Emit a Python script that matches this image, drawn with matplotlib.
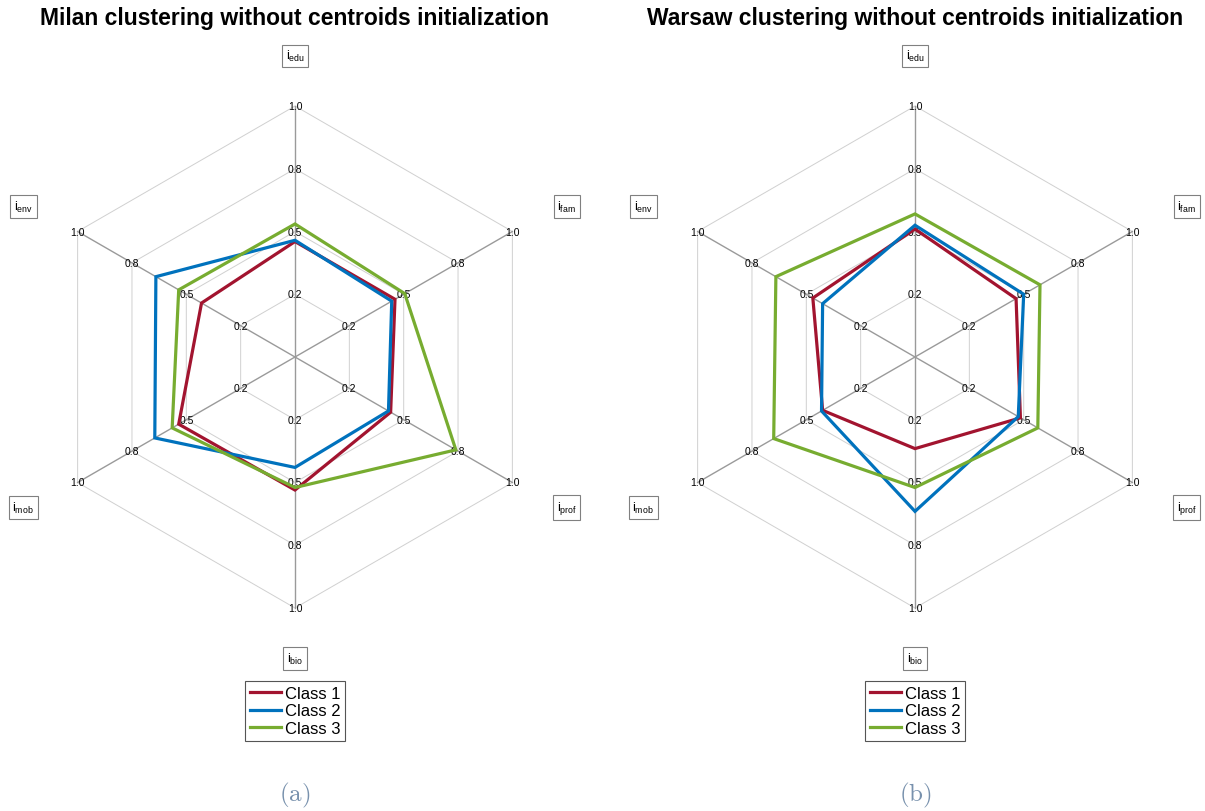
import numpy as np
import matplotlib
matplotlib.use('Agg')
import matplotlib.pyplot as plt
from matplotlib.patches import Polygon

plt.rcParams['font.family'] = ['Liberation Sans', 'DejaVu Sans']
plt.rcParams['mathtext.fontset'] = 'custom'
plt.rcParams['mathtext.rm'] = 'Liberation Sans'

# Indicators, clockwise from the top
indicators = ['edu', 'fam', 'prof', 'bio', 'mob', 'env']
angles_deg = [90, 30, -30, -90, -150, 150]
rings = [0.25, 0.5, 0.75, 1.0]

milan_class1 = [0.46, 0.46, 0.44, 0.53, 0.535, 0.43]
milan_class2 = [0.465, 0.445, 0.43, 0.44, 0.645, 0.64]
milan_class3 = [0.53, 0.505, 0.74, 0.52, 0.565, 0.535]

warsaw_class1 = [0.51, 0.465, 0.485, 0.365, 0.425, 0.47]
warsaw_class2 = [0.525, 0.50, 0.475, 0.615, 0.43, 0.425]
warsaw_class3 = [0.57, 0.575, 0.565, 0.52, 0.65, 0.64]

class_names = ['Class 1', 'Class 2', 'Class 3']
colors = ['#a2142f', '#0072bd', '#77ac30']

W, H = 1205, 812
R = 251  # pixel radius of the 1.0 ring

fig = plt.figure(figsize=(W / 100, H / 100), dpi=100)

th = np.deg2rad(angles_deg)
cx, sy = np.cos(th), np.sin(th)


def radar(cx_px, cy_px, title, series, tag):
    hx, hy = 1.17, 1.45
    ax = fig.add_axes([(cx_px - hx * R) / W, (H - cy_px - hy * R) / H,
                       2 * hx * R / W, 2 * hy * R / H])
    ax.set_xlim(-hx, hx)
    ax.set_ylim(-hy, hy)
    ax.axis('off')

    # hexagonal rings and spokes
    for r in rings:
        ax.add_patch(Polygon(np.column_stack([r * cx, r * sy]), closed=True,
                             fill=False, ec='#d0d0d0', lw=0.7, zorder=1))
    for i in range(len(indicators)):
        ax.plot([0, cx[i]], [0, sy[i]], color='#9a9a9a', lw=1.0, zorder=2)
        for r in rings:
            ax.text(r * cx[i], r * sy[i], f'{r:.1f}', fontsize=7.5,
                    ha='center', va='center', zorder=3)
        ax.text(1.25 * cx[i], 1.2 * sy[i],
                r'$\mathrm{i}_{\mathrm{' + indicators[i] + '}}$',
                fontsize=9, ha='center', va='center', clip_on=False,
                bbox=dict(boxstyle='square,pad=0.3', fc='white',
                          ec='#808080', lw=0.8))

    handles = []
    for vals, c, name in zip(series, colors, class_names):
        v = np.array(vals)
        ax.add_patch(Polygon(np.column_stack([v * cx, v * sy]), closed=True,
                             fill=False, ec=c, lw=2.3, joinstyle='miter',
                             zorder=5))
        ln, = ax.plot([], [], color=c, lw=2.3, label=name)
        handles.append(ln)

    fig.text(cx_px / W, 1 - 18 / H, title, fontsize=16.5, fontweight='bold',
             ha='center', va='center')
    leg = fig.legend(handles=handles, loc='center',
                     bbox_to_anchor=(cx_px / W, 1 - 712 / H),
                     fontsize=12, handlelength=1.9, handletextpad=0.2,
                     labelspacing=0.15, borderpad=0.3, borderaxespad=0,
                     fancybox=False, framealpha=1, edgecolor='#555555')
    leg.get_frame().set_linewidth(0.8)
    fig.text(cx_px / W, 1 - 795 / H, r'$\mathrm{(' + tag + ')}$',
             fontsize=18, math_fontfamily='cm', color='#7891ad',
             ha='center', va='center')


radar(295, 358, 'Milan clustering without centroids initialization',
      [milan_class1, milan_class2, milan_class3], 'a')
radar(915, 358, 'Warsaw clustering without centroids initialization',
      [warsaw_class1, warsaw_class2, warsaw_class3], 'b')

fig.savefig('out.png', dpi=100)
